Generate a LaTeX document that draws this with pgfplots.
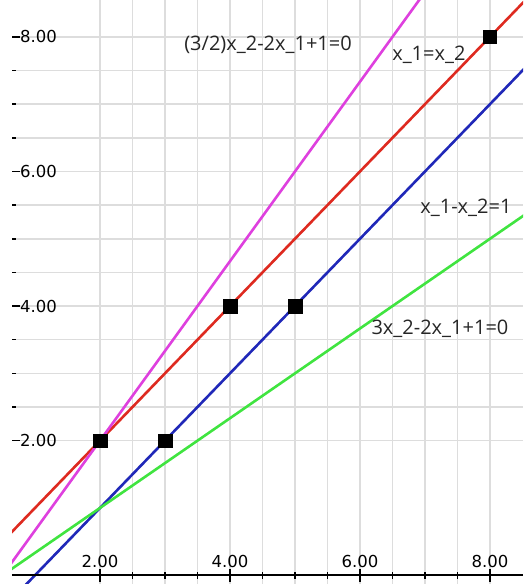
\documentclass[border=0pt]{standalone}
\usepackage{fontspec}
\setmainfont{DejaVu Sans}
\newfontfamily\labelfont{Open Sans}
\usepackage{pgfplots}
\pgfplotsset{compat=1.18}

\definecolor{gridgray}{RGB}{221,221,221}
\definecolor{lnred}{RGB}{222,42,32}
\definecolor{lnblue}{RGB}{32,40,184}
\definecolor{lnmag}{RGB}{222,64,222}
\definecolor{lngreen}{RGB}{64,228,64}

\pgfplotsset{
  plane/.style={
    scale only axis, width=511pt, height=584pt,
    xmin=0.646, xmax=8.508, ymin=-0.13, ymax=8.548,
    at={(0,0)}, anchor=south west,
    /pgf/number format/assume math mode=true,
    tick label style={font=\fontsize{16.5}{18}\selectfont},
  },
}
\tikzset{eqlabel/.style={font=\labelfont\fontsize{20}{22}\selectfont, text=black!85}}

\begin{document}
\begin{tikzpicture}
% grid, y ticks, lines and points
\begin{axis}[plane, name=ax,
  axis line style={draw=none},
  xtick={2,4,6,8}, minor x tick num=3, xticklabels={},
  xtick style={draw=none},
  ytick={2,4,6,8}, minor y tick num=3, ytick pos=left,
  tick align=inside,
  major tick length=8pt, minor tick length=4pt,
  ytick style={black, line width=1.5pt},
  yticklabel style={anchor=west, xshift=4.5pt},
  yticklabel={\pgfmathprintnumber[fixed,fixed zerofill,precision=2]{\tick}},
  grid=both,
  major grid style={gridgray, line width=1.5pt},
  minor grid style={gridgray, line width=1.5pt},
  clip=true,
]
\addplot[lnred, line width=2.6pt] coordinates {(0,0) (9,9)};
\addplot[lnblue, line width=2.6pt] coordinates {(0,-1) (9,8)};
\addplot[lngreen, line width=2.6pt] coordinates {(0,-0.3333) (9,5.6667)};
\addplot[lnmag, line width=2.6pt] coordinates {(0,-0.6667) (9,11.3333)};
\addplot[only marks, mark=square*, mark size=6.7pt, black]
  coordinates {(2,2) (3,2) (4,4) (5,4) (8,8)};
\node[eqlabel] at (axis cs:4.585,7.88) {(3/2)x\_2-2x\_1+1=0};
\node[eqlabel] at (axis cs:7.06,7.74) {x\_1=x\_2};
\node[eqlabel] at (axis cs:7.63,5.46) {x\_1-x\_2=1};
\node[eqlabel] at (axis cs:7.23,3.66) {3x\_2-2x\_1+1=0};
\end{axis}
% horizontal axis through y = 0
\begin{axis}[plane,
  axis x line=middle, axis y line=none,
  axis line style={-, black, line width=2pt},
  xtick={2,4,6,8}, minor x tick num=3,
  tick align=center,
  major tick length=13pt, minor tick length=7pt,
  xtick style={black, line width=1.5pt},
  xticklabel style={anchor=south, yshift=10pt},
  xticklabel={\pgfmathprintnumber[fixed,fixed zerofill,precision=2]{\tick}},
]
\addplot[draw=none] coordinates {(1,1)};
\end{axis}
\pgfresetboundingbox
\path ([xshift=-12pt]ax.south west) rectangle (ax.north east);
\end{tikzpicture}
\end{document}
